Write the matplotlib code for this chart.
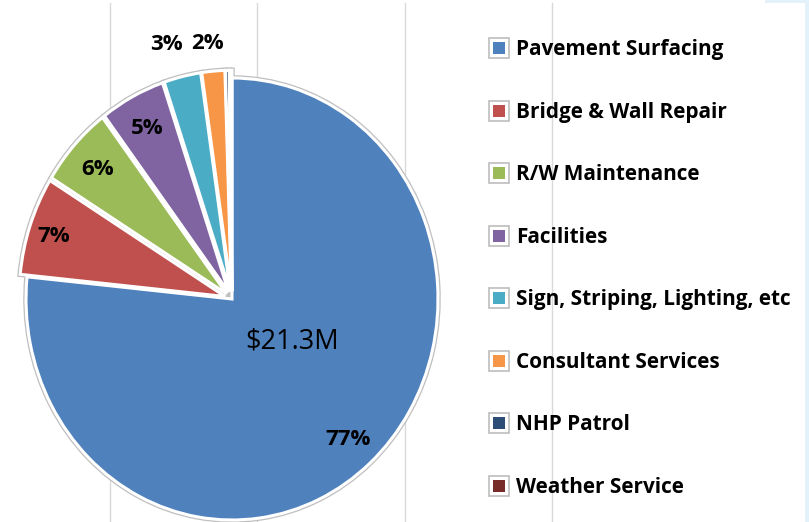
import matplotlib
matplotlib.use("Agg")
import matplotlib.pyplot as plt
from matplotlib.lines import Line2D
from matplotlib.patches import Rectangle
from matplotlib.legend_handler import HandlerTuple
import numpy as np

categories = ["Pavement Surfacing", "Bridge & Wall Repair", "R/W Maintenance",
              "Facilities", "Sign, Striping, Lighting, etc", "Consultant Services",
              "NHP Patrol", "Weather Service"]
values = [76.6, 7.2, 5.9, 5.1, 2.9, 1.8, 0.3, 0.2]
pct_labels = ["77%", "7%", "6%", "5%", "3%", "2%", "", ""]
colors = ["#4F81BD", "#C0504D", "#9BBB59", "#8064A2", "#4BACC6", "#F79646",
          "#2C4D75", "#772C2A"]
total_label = "$21.3M"

FONT = "Open Sans"
W, H = 809, 522
fig = plt.figure(figsize=(W / 100, H / 100), dpi=100)
fig.patch.set_facecolor("white")

# background vertical gridlines
for gx in [110, 257, 405, 552]:
    fig.add_artist(Line2D([gx / W, gx / W], [0, 1 - 3 / H], color="#D9D9D9", lw=1.0, zorder=0))
# pale border on the right
fig.add_artist(Rectangle((805 / W, 0), 4 / W, 1, color="#E3F1FA", lw=0, zorder=0))
fig.add_artist(Rectangle((765 / W, 1 - 3 / H), 44 / W, 3 / H, color="#E3F1FA", lw=0, zorder=0))

ax = fig.add_axes([0, 0, 1, 1])
ax.patch.set_alpha(0)
cx, cy = 232, 299
rx, ry = 206, 221

explode = [0.0] + [0.035] * 7
w_outer, _ = ax.pie(values, colors=colors, startangle=90, counterclock=False,
                    explode=explode,
                    wedgeprops=dict(edgecolor="#BFBFBF", linewidth=4.0))
w_inner, _ = ax.pie(values, colors=colors, startangle=90, counterclock=False,
                    explode=explode,
                    wedgeprops=dict(edgecolor="white", linewidth=2.2))

ax.set_aspect("auto")
ax.set_xlim(-cx / rx, (W - cx) / rx)
ax.set_ylim(-(H - cy) / ry, cy / ry)
ax.axis("off")

dist = [0.84, 0.88, 0.85, 0.85, 1.16, 1.15, 1.0, 1.0]
nudge = [(0, 0), (0, 0), (0, 0), (0, 0), (-6, 0), (-2.5, -2), (0, 0), (0, 0)]  # points
for w, lab, d, nd in zip(w_inner, pct_labels, dist, nudge):
    if not lab:
        continue
    ang = np.deg2rad((w.theta1 + w.theta2) / 2)
    x = w.center[0] + d * np.cos(ang)
    y = w.center[1] + d * np.sin(ang)
    ax.annotate(lab, (x, y), xytext=nd, textcoords="offset points",
                ha="center", va="center_baseline", fontsize=16,
                fontweight="bold", family=FONT, color="black")

ax.text((292 - cx) / rx, (cy - 338) / ry, total_label, ha="center", va="center_baseline",
        fontsize=19.5, family=FONT, color="black")

handles = []
for c in colors:
    outer = Line2D([], [], marker="s", markersize=14, markerfacecolor="white",
                   markeredgecolor="#BDBDBD", markeredgewidth=1.2, linestyle="none")
    inner = Line2D([], [], marker="s", markersize=9, markerfacecolor=c,
                   markeredgecolor=c, markeredgewidth=0, linestyle="none")
    handles.append((outer, inner))

# fit legend font so the longest entry spans ~276 px
renderer = fig.canvas.get_renderer()
probe = fig.text(0, 0, categories[4], family=FONT, weight="bold", fontsize=14)
wpx = probe.get_window_extent(renderer).width
probe.remove()
leg_fs = 14 * 276 / wpx


def make_legend(ls, anchor):
    return fig.legend(handles, categories, handler_map={tuple: HandlerTuple(ndivide=1)},
                      loc="upper left", bbox_to_anchor=anchor,
                      frameon=False, prop=dict(family=FONT, weight="bold", size=leg_fs),
                      labelspacing=ls, handlelength=1.0, handletextpad=0.3,
                      borderaxespad=0, borderpad=0)


ls = 1.8
anchor = (484 / W, 1 - 33 / H)
for _ in range(3):
    leg = make_legend(ls, anchor)
    fig.canvas.draw()
    exts = [t.get_window_extent(renderer) for t in leg.get_texts()]
    pitch = ((exts[0].y0 + exts[0].y1) / 2 - (exts[-1].y0 + exts[-1].y1) / 2) / 7
    leg_fs_px = leg_fs * 100 / 72
    first_cy = H - (exts[0].y0 + exts[0].y1) / 2
    left = exts[0].x0
    leg.remove()
    ls = ls + (62.5 - pitch) / leg_fs_px
    anchor = (anchor[0] + (516 - left) / W, anchor[1] - (50 - first_cy) / H)
leg = make_legend(ls, anchor)

fig.savefig("out.png", dpi=100, facecolor="white")
